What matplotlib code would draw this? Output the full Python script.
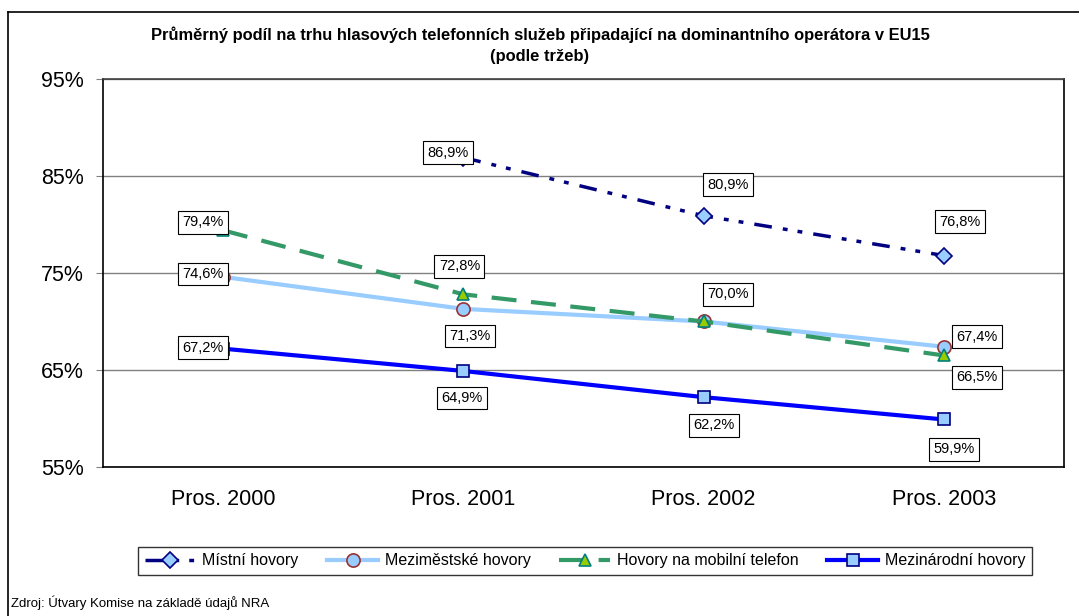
import numpy as np
import matplotlib
matplotlib.use("Agg")
import matplotlib.pyplot as plt
from matplotlib.lines import Line2D

plt.rcParams['font.family'] = ['Liberation Sans', 'DejaVu Sans']

# data
categories = ["Pros. 2000", "Pros. 2001", "Pros. 2002", "Pros. 2003"]
mistni = [np.nan, 86.9, 80.9, 76.8]
mezimestske = [74.6, 71.3, 70.0, 67.4]
mobilni = [79.4, 72.8, 70.0, 66.5]
mezinarodni = [67.2, 64.9, 62.2, 59.9]
y_ticks = [55, 65, 75, 85, 95]

title = ("Průměrný podíl na trhu hlasových telefonních služeb připadající na dominantního operátora v EU15\n"
         "(podle tržeb)")
source = "Zdroj: Útvary Komise na základě údajů NRA"

# label offsets in pixels (None = no label)
off_mistni = [None, (-15, 5), (24, 31), (16, 34)]
off_mezimestske = [(-20, 3), (7, -27), (24, 27), (33, 10)]
off_mobilni = [(-20, 8), (-4, 28), None, (33, -22)]
off_mezinarodni = [(-20, 1), (-1, -27), (10, -28), (10, -30)]

W, H = 1079, 616
fig = plt.figure(figsize=(W / 100, H / 100), dpi=100)
ax = fig.add_axes([103 / W, 1 - 467 / H, (1064 - 103) / W, (467 - 79) / H])

x = np.arange(len(categories))

series = [
    (mistni, "Místní hovory", dict(color="#000080", lw=2.5, dashes=(5.1, 3.2, 1.4, 2.9, 1.4, 3.2),
                                   marker="D", ms=8, mfc="#99CCFF", mec="#000080", mew=1.2), off_mistni),
    (mezimestske, "Meziměstské hovory", dict(color="#99CCFF", lw=3, ls="-",
                                              marker="o", ms=9.5, mfc="#99CCFF", mec="#993333", mew=1.2), off_mezimestske),
    (mobilni, "Hovory na mobilní telefon", dict(color="#339966", lw=3, dashes=(6, 3.5),
                                                marker="^", ms=9, mfc="#99CC00", mec="#008080", mew=1.2), off_mobilni),
    (mezinarodni, "Mezinárodní hovory", dict(color="#0000FF", lw=3, ls="-",
                                             marker="s", ms=9, mfc="#99CCFF", mec="#000080", mew=1.2), off_mezinarodni),
]

for vals, name, style, offs in series:
    ax.plot(x, vals, label=name, zorder=3, **style)

for vals, name, style, offs in series:
    for xi, v, o in zip(x, vals, offs):
        if o is None or np.isnan(v):
            continue
        ax.annotate(f"{v:.1f}%".replace(".", ","), (xi, v), xytext=o,
                    textcoords="offset pixels", ha="center", va="center",
                    fontsize=10.5, zorder=5,
                    bbox=dict(boxstyle="square,pad=0.3", fc="white", ec="black", lw=0.8))

ax.set_xlim(-0.5, len(categories) - 0.5)
ax.set_ylim(55, 95)
ax.set_yticks(y_ticks)
ax.set_yticklabels([f"{t}%" for t in y_ticks], fontsize=15.5)
ax.set_xticks(x)
ax.set_xticklabels(categories, fontsize=15.5)
ax.tick_params(axis="x", length=0, pad=16)
ax.tick_params(axis="y", length=5, width=0.8, pad=9, color="#808080")
ax.yaxis.grid(True, color="#808080", lw=1)
ax.set_axisbelow(True)
for s in ["left", "bottom", "right"]:
    ax.spines[s].set_color("black")
    ax.spines[s].set_linewidth(1.2)
ax.spines["top"].set_color("#404040")
ax.spines["top"].set_linewidth(1.2)

fig.text(540 / W, 1 - 45 / H, title, ha="center", va="center", fontsize=11.9,
         fontweight="bold", linespacing=1.5)

leg = fig.legend(loc="center", bbox_to_anchor=(585 / W, 1 - 561 / H), ncol=4,
                 fontsize=11.5, frameon=True, fancybox=False, edgecolor="black",
                 handlelength=3.2, handletextpad=0.4, columnspacing=1.8,
                 borderpad=0.4)
leg.get_frame().set_linewidth(1)

fig.text(11 / W, 1 - 603 / H, source, ha="left", va="center", fontsize=9.5)

# outer chart frame (clipped at right and bottom)
fig.add_artist(Line2D([8 / W, 8 / W], [0, 1 - 12 / H], color="black", lw=1.2))
fig.add_artist(Line2D([8 / W, 1], [1 - 12 / H, 1 - 12 / H], color="black", lw=1.2))

fig.savefig("out.png", dpi=100)
